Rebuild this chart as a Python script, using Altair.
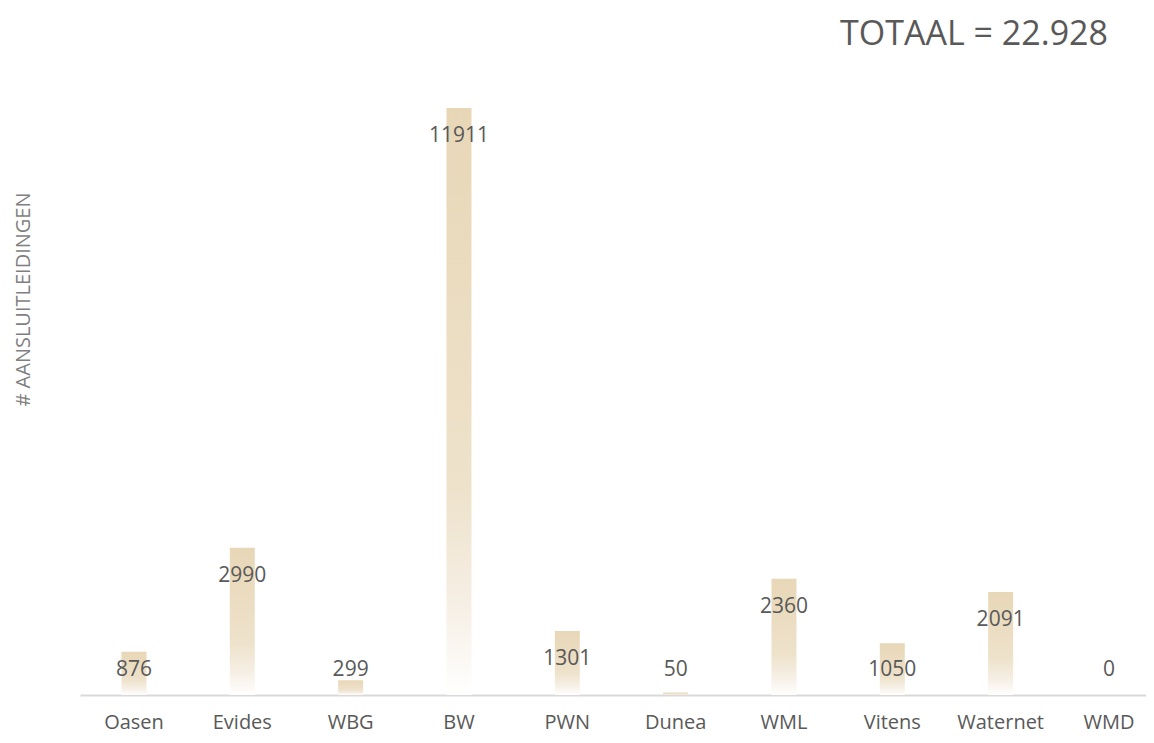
import altair as alt
import pandas as pd

categories = ["Oasen", "Evides", "WBG", "BW", "PWN", "Dunea", "WML", "Vitens", "Waternet", "WMD"]
values = [876, 2990, 299, 11911, 1301, 50, 2360, 1050, 2091, 0]
total_label = "TOTAAL = 22.928"
y_title = "# AANSLUITLEIDINGEN"

df = pd.DataFrame({"cat": categories, "value": values})

FONT = "Open Sans"
PLOT_H = 587
YMAX = max(values)
px = YMAX / PLOT_H  # data units per pixel

gradient = alt.Gradient(
    gradient="linear",
    x1=0, y1=0, x2=0, y2=1,
    stops=[
        alt.GradientStop(offset=0, color="#e8d7b7"),
        alt.GradientStop(offset=0.65, color="#eee2cb"),
        alt.GradientStop(offset=0.85, color="#f6efe5"),
        alt.GradientStop(offset=1, color="#ffffff"),
    ],
)

xenc = alt.X(
    "cat:N",
    sort=categories,
    title=None,
    scale=alt.Scale(paddingInner=0.5, paddingOuter=0.17, align=0.73, round=False),
    axis=alt.Axis(
        labelAngle=0,
        labelFont=FONT,
        labelFontSize=20,
        labelColor="#595959",
        labelPadding=17,
        ticks=False,
        domainColor="#d9d9d9",
        domainWidth=2,
        grid=False,
    ),
)

yscale = alt.Scale(domain=[0, YMAX], nice=False, zero=True)

bars = alt.Chart(df).mark_bar(size=25, color=gradient).encode(
    x=xenc,
    y=alt.Y(
        "value:Q",
        scale=yscale,
        title=y_title,
        axis=alt.Axis(
            labels=False,
            ticks=False,
            domain=False,
            grid=False,
            titleFont=FONT,
            titleFontSize=20,
            titleFontWeight="normal",
            titleColor="#7f7f7f",
            titleAngle=270,
            titleX=-57,
            titleY=191,
            titleAlign="center",
            titleBaseline="middle",
        ),
    ),
)

labels = (
    alt.Chart(df)
    .transform_calculate(ly=f"max(datum.value - {28 * px}, {25 * px})")
    .mark_text(font=FONT, fontSize=21, color="#595959", baseline="middle")
    .encode(
        x=alt.X("cat:N", sort=categories),
        y=alt.Y("ly:Q", scale=yscale),
        text=alt.Text("value:Q", format="d"),
    )
)

chart = (
    alt.layer(bars, labels)
    .properties(
        width=1066,
        height=PLOT_H,
        padding={"left": 72, "top": 100, "right": 0, "bottom": 40},
        autosize=alt.AutoSizeParams(type="none"),
        title=alt.TitleParams(
            total_label,
            anchor="end",
            dx=-38,
            offset=56,
            font=FONT,
            fontSize=34,
            fontWeight="normal",
            color="#595959",
        ),
        background="white",
    )
    .configure_view(stroke=None)
)

chart.save("out.html", embed_options={"renderer": "svg", "actions": False})
